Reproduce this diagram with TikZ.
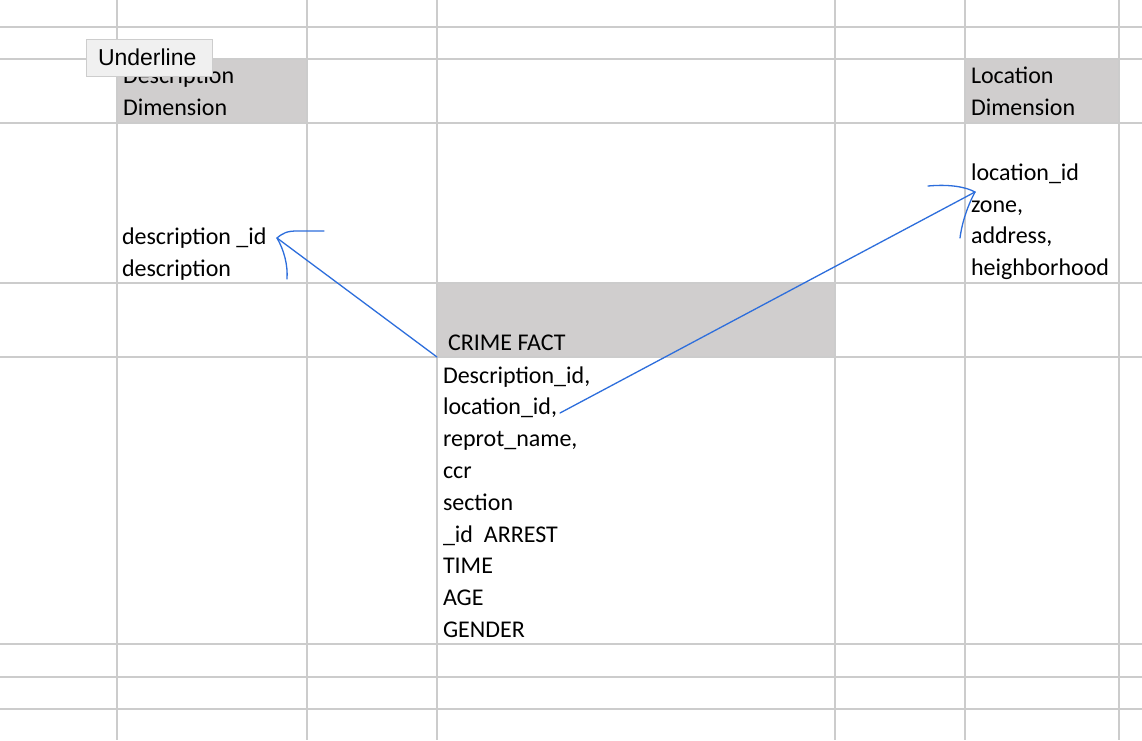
\documentclass[tikz,border=0pt]{standalone}
\usepackage{fontspec}
\setmainfont{Carlito}
\newfontfamily\tipfont{Liberation Sans}
\definecolor{hdrgray}{RGB}{208,206,206}
\definecolor{gridgray}{RGB}{204,204,204}
\definecolor{linkblue}{RGB}{45,110,220}
\definecolor{tipfill}{RGB}{240,240,240}
\definecolor{tipborder}{RGB}{205,205,205}
\tikzset{
  cellfill/.style={fill=hdrgray, draw=none, inner sep=0, outer sep=0, anchor=north west},
  gridline/.style={draw=gridgray, line width=2pt},
  txt/.style={anchor=base west, inner sep=0, outer sep=0, font=\fontsize{24}{28}\selectfont},
  link/.style={draw=linkblue, line width=1.3pt, line cap=round, line join=round},
  tipbox/.style={fill=tipfill, draw=tipborder, line width=1pt, inner sep=0, outer sep=0, anchor=north west},
  tiptxt/.style={anchor=base west, inner sep=0, outer sep=0, font=\tipfont\fontsize{23}{26}\selectfont}
}
\begin{document}
\begin{tikzpicture}[x=1pt,y=-1pt]
\useasboundingbox (0,0) rectangle (1142,740);
\fill[white] (0,0) rectangle (1142,740);
% gray header cells
\node[cellfill, minimum width=190, minimum height=64] (deschead) at (117,59) {};
\node[cellfill, minimum width=154, minimum height=64] (lochead) at (965,59) {};
\node[cellfill, minimum width=398, minimum height=74] (crimehead) at (437,283) {};
% grid
\foreach \x in {117,307,437,835,965,1119} \draw[gridline] (\x,0) -- (\x,740);
\foreach \y in {27,59,123,283,357,644,677,709} \draw[gridline] (0,\y) -- (1142,\y);
% description dimension
\node[txt] (dd1) at (123,83) {Description};
\node[txt] (dd2) at (123,115) {Dimension};
\node[txt] (dattr1) at (122,244) {description \_id};
\node[txt] (dattr2) at (122,276) {description};
% location dimension
\node[txt] (ld1) at (971,83) {Location};
\node[txt] (ld2) at (971,115) {Dimension};
\node[txt] (lattr1) at (971,180) {location\_id};
\node[txt] (lattr2) at (971,212) {zone,};
\node[txt] (lattr3) at (971,243) {address,};
\node[txt] (lattr4) at (971,275) {heighborhood};
% crime fact
\node[txt] (cf) at (448,350) {CRIME FACT};
\node[txt] (f1) at (443,383) {Description\_id,};
\node[txt] (f2) at (443,414.8) {location\_id,};
\node[txt] (f3) at (443,446.6) {reprot\_name,};
\node[txt] (f4) at (443,478.4) {ccr};
\node[txt] (f5) at (443,510.2) {section};
\node[txt] (f6) at (443,542) {\_id\ \ ARREST};
\node[txt] (f7) at (443,573.8) {TIME};
\node[txt] (f8) at (443,605.6) {AGE};
\node[txt] (f9) at (443,637.4) {GENDER};
% tooltip
\node[tipbox, minimum width=126, minimum height=37] (tip) at (86,39) {};
\node[tiptxt] (tiptext) at (98,65) {Underline};
% connectors
\coordinate (tipL) at (277,238);
\coordinate (tipR) at (975,192);
\coordinate (startR) at (560,413);
\draw[link] (crimehead.south west) -- (tipL);
\draw[link] (tipL) .. controls (283,233) and (287,231) .. (297,231) -- (324,231);
\draw[link] (tipL) .. controls (284,250) and (288,265) .. (287,279);
\draw[link] (startR) -- (tipR);
\draw[link] (928,186) .. controls (950,184) and (966,187) .. (tipR);
\draw[link] (tipR) .. controls (968,205) and (962,222) .. (960,238);
\end{tikzpicture}
\end{document}
